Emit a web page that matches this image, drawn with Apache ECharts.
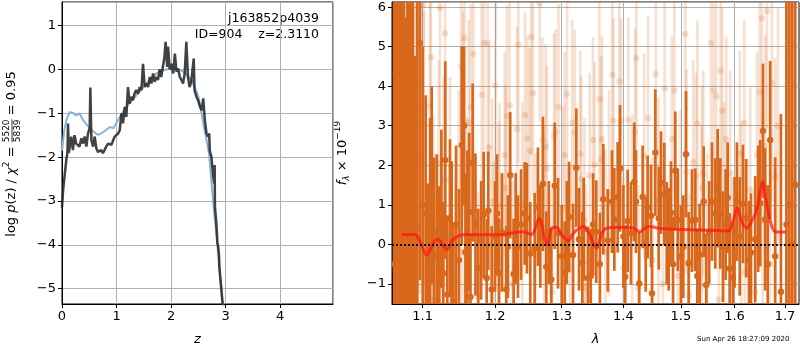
<!DOCTYPE html>
<html>
<head>
<meta charset="utf-8">
<script src="https://cdn.jsdelivr.net/npm/echarts@6/dist/echarts.min.js"></script>
<style>
  html, body { margin: 0; padding: 0; background: #fff; }
  #chart { width: 800px; height: 350px; }
</style>
</head>
<body>
<div id="chart"></div>
<script>
// ---- left panel: log p(z) ----
const zBlue = [0, 0.04, 0.08, 0.14, 0.2, 0.26, 0.32, 0.385, 0.45, 0.51, 0.58, 0.66, 0.73, 0.81, 0.875,
  0.94, 1.03, 1.1, 1.18, 1.27, 1.365, 1.46, 1.55, 1.64, 1.73, 1.82, 1.92, 2.0, 2.07, 2.15, 2.22, 2.3,
  2.37, 2.44, 2.5, 2.55, 2.6, 2.65, 2.7, 2.77, 2.85, 2.925, 2.96];
const logpBlue = [-1.85, -1.4, -1.15, -0.97, -0.99, -1.05, -1.0, -1.15, -1.25, -1.34, -1.42, -1.49, -1.45, -1.38, -1.31,
  -1.34, -1.15, -1.0, -0.85, -0.72, -0.59, -0.45, -0.32, -0.2, -0.09, -0.03, 0.0, 0.02, 0.02, 0.0, -0.05, -0.13,
  -0.24, -0.42, -0.62, -0.92, -1.3, -1.6, -1.95, -3.0, -4.0, -5.0, -5.5];

const zDark = [0, 0.02, 0.05, 0.08, 0.10, 0.11, 0.125, 0.14, 0.17, 0.20, 0.23, 0.26, 0.29, 0.32, 0.355,
  0.386, 0.416, 0.447, 0.477, 0.508, 0.52, 0.539, 0.57, 0.60, 0.63, 0.66, 0.69, 0.72, 0.75, 0.78,
  0.81, 0.845, 0.875, 0.906, 0.94, 0.967, 0.997, 1.03, 1.06, 1.09, 1.12, 1.15, 1.18, 1.21, 1.24,
  1.27, 1.30, 1.33, 1.36, 1.395, 1.425, 1.456, 1.486, 1.517, 1.55, 1.58, 1.61, 1.64, 1.67, 1.70,
  1.73, 1.76, 1.79, 1.82, 1.85, 1.88, 1.90, 1.93, 1.945, 1.976, 2.006, 2.04, 2.07, 2.10, 2.13,
  2.16, 2.19, 2.22, 2.25, 2.28, 2.31, 2.34, 2.37, 2.416, 2.43, 2.465, 2.495, 2.53, 2.56, 2.59,
  2.62, 2.65, 2.68, 2.70, 2.71, 2.74, 2.77, 2.79, 2.80, 2.805, 2.83, 2.85, 2.865, 2.88, 2.885,
  2.92, 2.96];
const logpDark = [-3.15, -2.75, -2.4, -2.05, -1.9, -1.23, -1.9, -1.91, -1.53, -1.84, -1.50, -1.69, -1.65, -1.76, -1.57,
  -1.69, -1.53, -1.76, -1.46, -1.34, -0.41, -1.61, -1.76, -1.53, -1.80, -1.88, -1.91, -1.84, -1.91, -1.84,
  -1.76, -1.69, -1.65, -1.72, -1.61, -1.53, -1.57, -1.46, -1.38, -1.0, -1.23, -0.85, -1.08, -0.40, -0.78,
  -0.62, -0.70, -0.55, -0.47, -0.55, -0.40, -0.47, 0.13, -0.40, -0.32, -0.40, -0.17, -0.32, -0.09, -0.28,
  -0.17, -0.24, 0.0, -0.17, -0.17, 0.29, 0.63, 0.06, 0.52, 0.0, 0.13, -0.09, 0.36, -0.05, 0.02,
  -0.17, -0.24, -0.32, -0.09, 0.63, -0.17, -0.40, -0.28, 0.25, -0.47, -0.62, -0.70, -0.85, -0.93, -0.66,
  -1.16, -1.46, -1.53, -1.46, -1.85, -1.99, -2.4, -2.6, -2.18, -3.13, -3.5, -3.95, -4.05, -4.25, -4.5,
  -5.0, -5.55];

// ---- right panel: spectrum [lambda, flux, error] ----
const darkSpec = [
  [1.0630, -0.5, 9], [1.0653, 1.5, 8], [1.0680, 3.0, 8], [1.0704, 0.8, 8], [1.0730, -1.1, 8],
  [1.0756, 2.23, 8], [1.0782, -1.26, 7], [1.0800, 1.2, 7], [1.0824, 4.26, 7], [1.0850, 0.0, 7],
  [1.0869, 1.88, 6], [1.0899, -1.24, 6], [1.0929, 0.40, 6], [1.0964, 5.09, 6], [1.1000, 1.0, 4],
  [1.1040, 0.77, 3], [1.1074, -0.96, 2.5], [1.1100, 0.2, 3], [1.1120, 1.50, 2.5], [1.1150, -0.3, 2.5],
  [1.1187, 0.28, 2], [1.1222, -0.73, 2.2], [1.1250, 0.9, 2], [1.1276, -0.73, 1.8], [1.1303, 2.13, 2.5],
  [1.1330, -1.27, 2], [1.1367, 0.66, 2], [1.1390, 0.1, 2], [1.1412, -1.45, 2], [1.1450, 0.5, 2],
  [1.1490, -0.4, 1.8], [1.1528, 2.51, 2.5], [1.1560, 3.0, 2], [1.1580, -0.2, 2], [1.1606, 0.38, 2],
  [1.1633, 0.82, 2], [1.1650, -1.33, 1.6], [1.1681, 2.07, 2], [1.1720, 0.5, 1.8], [1.1760, -0.6, 1.5],
  [1.1800, 0.1, 1.5], [1.1836, 0.74, 1.6], [1.1879, -0.85, 1.5], [1.1902, 0.85, 1.5], [1.1951, -1.14, 1.6],
  [1.2000, 0.2, 1.4], [1.2027, 0.78, 1.5], [1.2056, -0.74, 1.4], [1.2100, 0.3, 1.5], [1.2162, -1.14, 1.6],
  [1.2187, -0.06, 1.3], [1.2220, 1.75, 1.6], [1.2270, -0.75, 1.4], [1.2300, 0.4, 1.4], [1.2334, -0.06, 1.3],
  [1.2380, 0.5, 1.4], [1.2434, 0.78, 1.3], [1.2468, 0.66, 1.4], [1.2518, -0.23, 1.3], [1.2584, -0.10, 1.4],
  [1.2634, 0.95, 1.5], [1.2670, 0.2, 1.3], [1.2710, 1.53, 1.7], [1.2761, -0.57, 1.4], [1.2800, 0.3, 1.3],
  [1.2838, -0.89, 1.3], [1.2891, 1.48, 1.6], [1.2942, 0.28, 1.4], [1.3000, -0.3, 1.3], [1.3047, -0.72, 1.3],
  [1.3080, 0.3, 1.3], [1.3115, 0.69, 1.4], [1.3178, -0.27, 1.3], [1.3230, 1.94, 1.5], [1.3273, 0.13, 1.3],
  [1.3326, -0.48, 1.3], [1.3347, 0.38, 1.3], [1.3417, -0.85, 1.3], [1.3461, -0.80, 1.2], [1.3500, 0.5, 1.3],
  [1.3551, 0.32, 1.3], [1.3610, -0.5, 1.3], [1.3666, 1.14, 1.4], [1.3740, 0.1, 1.3], [1.3809, 1.08, 1.3],
  [1.3848, 0.63, 1.3], [1.3904, 1.19, 1.4], [1.3943, 1.92, 1.6], [1.4000, 0.2, 1.3], [1.4031, -0.82, 1.3],
  [1.4072, 0.59, 1.3], [1.4128, 0.28, 1.3], [1.4184, 1.58, 1.5], [1.4213, 1.08, 1.3], [1.4269, -0.99, 1.3],
  [1.4328, 1.20, 1.3], [1.4380, 0.0, 1.2], [1.4414, 0.94, 1.3], [1.4472, 0.72, 1.3], [1.4489, -1.24, 1.2],
  [1.4547, 2.32, 1.6], [1.4607, 0.66, 1.3], [1.4647, 1.56, 1.3], [1.4705, 1.27, 1.3], [1.4748, 0.28, 1.3],
  [1.4783, 0.13, 1.3], [1.4823, 0.80, 1.3], [1.4860, -0.5, 1.2], [1.4900, 1.86, 1.5], [1.4944, 0.62, 1.3],
  [1.5002, -0.31, 1.3], [1.5044, -0.06, 1.3], [1.5094, 2.28, 1.6], [1.5142, -0.48, 1.3], [1.5202, 0.60, 1.3],
  [1.5262, 0.62, 1.3], [1.5300, -0.8, 1.2], [1.5343, -0.27, 1.3], [1.5417, 1.08, 1.4], [1.5465, -1.03, 1.3],
  [1.5520, 0.3, 1.3], [1.5572, 1.08, 1.5], [1.5634, 0.78, 1.4], [1.5678, 1.42, 1.5], [1.5728, 0.78, 1.4],
  [1.5778, -0.06, 1.4], [1.5830, 0.5, 1.4], [1.5868, 1.18, 1.4], [1.5906, -0.61, 1.4], [1.5969, -0.84, 1.4],
  [1.6000, 0.3, 1.4], [1.6046, 1.08, 1.5], [1.6100, 0.2, 1.5], [1.6162, 1.02, 1.5], [1.6226, 0.66, 1.5],
  [1.6280, -0.4, 1.5], [1.6319, -0.21, 1.5], [1.6402, 0.13, 1.6], [1.6460, 0.9, 1.6], [1.6501, 1.04, 1.6],
  [1.6555, 2.87, 1.7], [1.6600, 0.63, 1.8], [1.6650, -0.5, 2], [1.6700, 2.64, 2], [1.6800, -0.3, 2.5],
  [1.6917, -1.2, 4.5], [1.7030, 0.5, 8], [1.7090, 1.0, 9], [1.7150, 0.0, 9], [1.7210, 1.5, 9]
];

const lightSpec = [
  [1.0620, 4.3, 5], [1.0680, 4.3, 4], [1.0720, 2.5, 4], [1.0790, 0.6, 4], [1.0850, 3.0, 4],
  [1.0885, 2.56, 3.5], [1.0899, 3.64, 3.5], [1.0955, 2.23, 3.5], [1.0974, 3.44, 3.5], [1.1008, 6.06, 3.5],
  [1.1020, 2.4, 3.5], [1.1097, 3.5, 3.5], [1.1110, 4.73, 3], [1.1140, 0.63, 2.6], [1.1150, -1.41, 2.6],
  [1.1215, 2.05, 2.6], [1.1231, 5.97, 3], [1.1260, -0.4, 2.6], [1.1282, 1.63, 2.6], [1.1300, 5.34, 3],
  [1.1367, 1.63, 2.6], [1.1380, -0.5, 2.6], [1.1440, -0.9, 2.6], [1.1489, 1.31, 2.6], [1.1520, 4.5, 3],
  [1.1535, -0.19, 2.6], [1.1547, 3.29, 2.6], [1.1565, 5.22, 3], [1.1598, 0.62, 2.6], [1.1625, 3.08, 2.6],
  [1.1655, 3.47, 2.6], [1.1690, 4.81, 2.6], [1.1750, -1.3, 2.6], [1.1808, 3.78, 2.6], [1.1840, 5.09, 3],
  [1.1895, 5.1, 3], [1.1915, 2.45, 2.6], [1.1960, 1.08, 2.6], [1.1980, -0.5, 2.6], [1.2008, 4.01, 3],
  [1.2050, 0.5, 2.6], [1.2066, 0.97, 2.6], [1.2139, 2.26, 2.6], [1.2151, 1.42, 2.6], [1.2172, 3.25, 2.8],
  [1.2212, 3.52, 2.6], [1.2250, -1.0, 2.6], [1.2320, 2.91, 2.6], [1.2340, 5.05, 3], [1.2400, 1.0, 2.6],
  [1.2440, 3.27, 2.6], [1.2475, 2.68, 2.6], [1.2509, 2.37, 2.6], [1.2533, 5.24, 3], [1.2558, 3.82, 2.6],
  [1.2600, -0.3, 2.6], [1.2660, 6.1, 3], [1.2700, 2.64, 2.6], [1.2730, 0.4, 2.6], [1.2752, 2.47, 2.6],
  [1.2770, 1.92, 2.6], [1.2850, -1.2, 2.6], [1.2880, 2.74, 2.6], [1.2906, 2.85, 2.6], [1.2950, 3.47, 2.6],
  [1.3020, 0.9, 2.6], [1.3047, 2.26, 2.6], [1.3083, 3.8, 2.6], [1.3130, -0.6, 2.6], [1.3166, 3.08, 2.6],
  [1.3204, 2.83, 2.6], [1.3293, 2.29, 2.6], [1.3309, 1.65, 2.6], [1.3360, 0.6, 2.6], [1.3380, -1.1, 2.6],
  [1.3443, 1.74, 2.6], [1.3497, 2.64, 2.6], [1.3525, 2.01, 2.6], [1.3600, 3.67, 2.6], [1.3628, 2.15, 2.6],
  [1.3644, 2.66, 2.6], [1.3700, -0.2, 2.6], [1.3760, 1.3, 2.6], [1.3815, 4.29, 2.6], [1.3831, 3.13, 2.6],
  [1.3931, 4.12, 2.6], [1.3960, 3.13, 2.6], [1.4000, -0.6, 2.6], [1.4083, 3.15, 2.6], [1.4150, 0.7, 2.6],
  [1.4200, 2.85, 2.6], [1.4220, 4.71, 2.6], [1.4250, -1.1, 2.6], [1.4355, 2.23, 2.6], [1.4420, 3.19, 2.6],
  [1.4500, -0.4, 2.6], [1.4555, 4.31, 2.6], [1.4600, 1.1, 2.6], [1.4680, -1.0, 2.6], [1.4712, 3.95, 2.6],
  [1.4841, 2.66, 2.6], [1.4883, 3.89, 2.6], [1.4950, -0.8, 2.6], [1.5000, 0.8, 2.6], [1.5080, 5.32, 3],
  [1.5100, 1.84, 2.6], [1.5150, -1.3, 2.6], [1.5226, 2.07, 2.6], [1.5276, 1.73, 2.6], [1.5302, 3.06, 2.6],
  [1.5380, 0.4, 2.6], [1.5386, 1.42, 2.6], [1.5410, 1.8, 2.6], [1.5480, -0.3, 2.6], [1.5553, 5.09, 3],
  [1.5603, 3.89, 2.6], [1.5652, 3.74, 2.6], [1.5700, -1.4, 2.6], [1.5735, 4.39, 2.6], [1.5766, 3.37, 2.6],
  [1.5800, 1.0, 2.6], [1.5842, 2.66, 2.6], [1.5918, 1.8, 2.6], [1.5950, -0.9, 2.6], [1.6099, 2.29, 2.6],
  [1.6130, 0.5, 2.6], [1.6188, 3.08, 2.6], [1.6200, -0.7, 2.6], [1.6305, 1.37, 2.6], [1.6400, -1.2, 2.6],
  [1.6437, 2.26, 2.6], [1.6490, 3.85, 2.8], [1.6537, 5.72, 3], [1.6550, 0.6, 2.6], [1.6605, 2.49, 2.8],
  [1.6635, 5.91, 3], [1.6700, -0.5, 3], [1.6736, 4.08, 3], [1.6802, 1.71, 3], [1.6857, 3.0, 3]
];

const lamModel = [1.0726, 1.0899, 1.0964, 1.1053, 1.1120, 1.1187, 1.1231, 1.1322, 1.1412, 1.1528, 1.1598,
  1.2118, 1.2216, 1.2413, 1.2539, 1.2654, 1.2741, 1.2776, 1.2844, 1.2921, 1.2999, 1.3103, 1.3182, 1.3342,
  1.3422, 1.3503, 1.3558, 1.3640, 1.3722, 1.3943, 1.4167, 1.4282, 1.4368, 1.4455, 1.4629, 1.5288, 1.5879,
  1.5975, 1.6052, 1.6137, 1.6235, 1.6333, 1.6431, 1.6497, 1.6550, 1.6616, 1.6696, 1.6797, 1.7019];
const fluxModel = [0.25, 0.25, 0.07, -0.27, -0.06, 0.13, 0.09, -0.13, 0.13, 0.24, 0.25,
  0.24, 0.28, 0.32, 0.25, 0.66, 0.11, 0.0, 0.41, 0.43, 0.24, 0.09, 0.28, 0.45,
  0.32, 0.03, -0.1, 0.28, 0.41, 0.43, 0.41, 0.32, 0.41, 0.45, 0.40, 0.36, 0.34,
  0.62, 0.92, 0.58, 0.41, 0.58, 0.87, 1.3, 1.59, 1.12, 0.62, 0.32, 0.31];

const lamTicks = [1.1, 1.2, 1.3, 1.4, 1.5, 1.6, 1.7];
const lamRange = [1.0602, 1.7288];

const FONT = 'DejaVu Sans';
const ORANGE = '#d9681c';
const LIGHT = 'rgba(217,104,28,0.2)';

function minus(v) {
  return v < 0 ? '\u2212' + String(-v) : String(v);
}

function errorBar(color, lw, r) {
  return function (params, api) {
    const cs = params.coordSys;
    const x = api.value(0), y = api.value(1), e = api.value(2);
    const c = api.coord([x, y]);
    const top = Math.max(api.coord([x, y + e])[1], cs.y);
    const bot = Math.min(api.coord([x, y - e])[1], cs.y + cs.height);
    const kids = [];
    if (top < bot) {
      kids.push({ type: 'line', shape: { x1: c[0], y1: top, x2: c[0], y2: bot },
        style: { stroke: color, lineWidth: lw } });
    }
    if (c[1] >= cs.y && c[1] <= cs.y + cs.height) {
      kids.push({ type: 'circle', shape: { cx: c[0], cy: c[1], r: r }, style: { fill: color } });
    }
    return { type: 'group', children: kids };
  };
}

// measure text so the rotated axis labels can be pieced together
const mctx = document.createElement('canvas').getContext('2d');
function tw(str, size, italic) {
  mctx.font = (italic ? 'italic ' : '') + size + 'px ' + FONT;
  return mctx.measureText(str).width;
}

function pieceGroup(pieces, pos) {
  // pieces: {t, size, italic, dy, frac:[num,den]}
  let total = 0;
  pieces.forEach(p => {
    p.w = p.frac ? Math.max(tw(p.frac[0], p.size), tw(p.frac[1], p.size)) : tw(p.t, p.size, p.italic);
    total += p.w;
  });
  let x = -total / 2;
  const kids = [];
  pieces.forEach(p => {
    if (p.frac) {
      kids.push({ type: 'text', x: x + p.w / 2, y: -5, style: { text: p.frac[0], font: p.size + 'px ' + FONT,
        fill: '#000', align: 'center', verticalAlign: 'middle' } });
      kids.push({ type: 'text', x: x + p.w / 2, y: 5.5, style: { text: p.frac[1], font: p.size + 'px ' + FONT,
        fill: '#000', align: 'center', verticalAlign: 'middle' } });
      kids.push({ type: 'line', shape: { x1: x, y1: 0, x2: x + p.w, y2: 0 }, style: { stroke: '#000', lineWidth: 0.8 } });
    } else {
      kids.push({ type: 'text', x: x, y: p.dy || 0, style: { text: p.t,
        font: (p.italic ? 'italic ' : '') + p.size + 'px ' + FONT, fill: '#000', align: 'left', verticalAlign: 'middle' } });
    }
    x += p.w;
  });
  return { type: 'group', x: pos[0], y: pos[1], rotation: Math.PI / 2, children: kids, silent: true };
}

const chart = echarts.init(document.getElementById('chart'), null, { renderer: 'canvas' });

const axisCommon = {
  axisLine: { show: true, onZero: false, lineStyle: { color: '#000', width: 1 } },
  axisTick: { show: true, length: 4, lineStyle: { color: '#000' } },
  axisLabel: { color: '#000', fontFamily: FONT, fontSize: 13, margin: 6 },
  splitLine: { show: true, lineStyle: { color: '#b0b0b0', width: 1 } }
};

chart.setOption({
  animation: false,
  backgroundColor: '#fff',
  grid: [
    { left: 62, top: 2, width: 271, height: 302, show: true, borderColor: '#000', borderWidth: 1,
      backgroundColor: 'transparent', outerBoundsMode: 'none' },
    { left: 392, top: 2, width: 407, height: 302, show: true, borderColor: '#000', borderWidth: 1,
      backgroundColor: 'transparent', outerBoundsMode: 'none' }
  ],
  xAxis: [
    Object.assign({}, axisCommon, {
      type: 'value', gridIndex: 0, min: 0, max: 4.97, splitNumber: 5,
      axisLabel: Object.assign({}, axisCommon.axisLabel, { showMaxLabel: false, formatter: minus }),
      name: 'z', nameLocation: 'middle', nameGap: 29,
      nameTextStyle: { fontFamily: FONT, fontSize: 13, fontStyle: 'italic', color: '#000' }
    }),
    Object.assign({}, axisCommon, {
      type: 'value', gridIndex: 1, min: Math.log(lamRange[0]), max: Math.log(lamRange[1]),
      axisTick: Object.assign({}, axisCommon.axisTick, { customValues: lamTicks.map(Math.log) }),
      axisLabel: Object.assign({}, axisCommon.axisLabel, {
        customValues: lamTicks.map(Math.log),
        formatter: v => Math.exp(v).toFixed(1)
      }),
      name: 'λ', nameLocation: 'middle', nameGap: 29,
      nameTextStyle: { fontFamily: FONT, fontSize: 13, fontStyle: 'italic', color: '#000' }
    })
  ],
  yAxis: [
    Object.assign({}, axisCommon, {
      type: 'value', gridIndex: 0, min: -5.35, max: 1.54, splitNumber: 6,
      axisLabel: Object.assign({}, axisCommon.axisLabel, { showMinLabel: false, showMaxLabel: false, formatter: minus })
    }),
    Object.assign({}, axisCommon, {
      type: 'value', gridIndex: 1, min: -1.51, max: 6.13, splitNumber: 7,
      axisLabel: Object.assign({}, axisCommon.axisLabel, { showMinLabel: false, showMaxLabel: false, formatter: minus })
    })
  ],
  series: [
    {
      type: 'line', xAxisIndex: 0, yAxisIndex: 0, silent: true, showSymbol: false, z: 2,
      data: zBlue.map((z, i) => [z, logpBlue[i]]),
      lineStyle: { color: '#86b4d8', width: 2 }
    },
    {
      type: 'line', xAxisIndex: 0, yAxisIndex: 0, silent: true, showSymbol: false, z: 3,
      data: zDark.map((z, i) => [z, logpDark[i]]),
      lineStyle: { color: 'rgba(40,40,40,0.88)', width: 2.5 }
    },
    {
      type: 'custom', xAxisIndex: 1, yAxisIndex: 1, silent: true, z: 2, clip: true,
      data: lightSpec.map(d => [Math.log(d[0]), d[1], d[2]]),
      encode: { x: 0, y: 1 },
      renderItem: errorBar(LIGHT, 2.7, 3.2)
    },
    {
      type: 'custom', xAxisIndex: 1, yAxisIndex: 1, silent: true, z: 3, clip: true,
      data: darkSpec.map(d => [Math.log(d[0]), d[1], d[2]]),
      encode: { x: 0, y: 1 },
      renderItem: errorBar(ORANGE, 2.7, 3.2)
    },
    {
      type: 'line', xAxisIndex: 1, yAxisIndex: 1, silent: true, showSymbol: false, z: 4, smooth: 0.3,
      data: lamModel.map((l, i) => [Math.log(l), fluxModel[i]]),
      lineStyle: { color: 'rgba(255,20,20,0.72)', width: 3 },
      markLine: {
        silent: true, symbol: 'none', label: { show: false }, z: 5,
        lineStyle: { color: '#111', type: 'dotted', width: 2 },
        data: [{ yAxis: 0 }]
      }
    }
  ],
  graphic: [
    { type: 'text', right: 800 - 319, top: 12, silent: true,
      style: { text: 'j163852p4039', font: '12.5px ' + FONT, fill: '#000' } },
    { type: 'text', right: 800 - 319, top: 28, silent: true,
      style: { text: 'ID=904    z=2.3110', font: '12.5px ' + FONT, fill: '#000' } },
    { type: 'text', left: 697, top: 336, silent: true,
      style: { text: 'Sun Apr 26 18:27:09 2020', font: '7px ' + FONT, fill: '#000' } },
    pieceGroup([
      { t: 'log ', size: 13 }, { t: 'p', size: 13, italic: true }, { t: '(z) / ', size: 13 },
      { t: 'χ', size: 13, italic: true }, { t: '2', size: 9, dy: -5 }, { t: ' = ', size: 13 },
      { frac: ['5520', '5839'], size: 9 }, { t: ' = 0.95', size: 13 }
    ], [12, 154]),
    pieceGroup([
      { t: 'f', size: 13, italic: true }, { t: 'λ', size: 9, italic: true, dy: 4 },
      { t: ' × 10', size: 13 }, { t: '\u221219', size: 9, dy: -5 }
    ], [343, 153])
  ]
});
</script>
</body>
</html>
